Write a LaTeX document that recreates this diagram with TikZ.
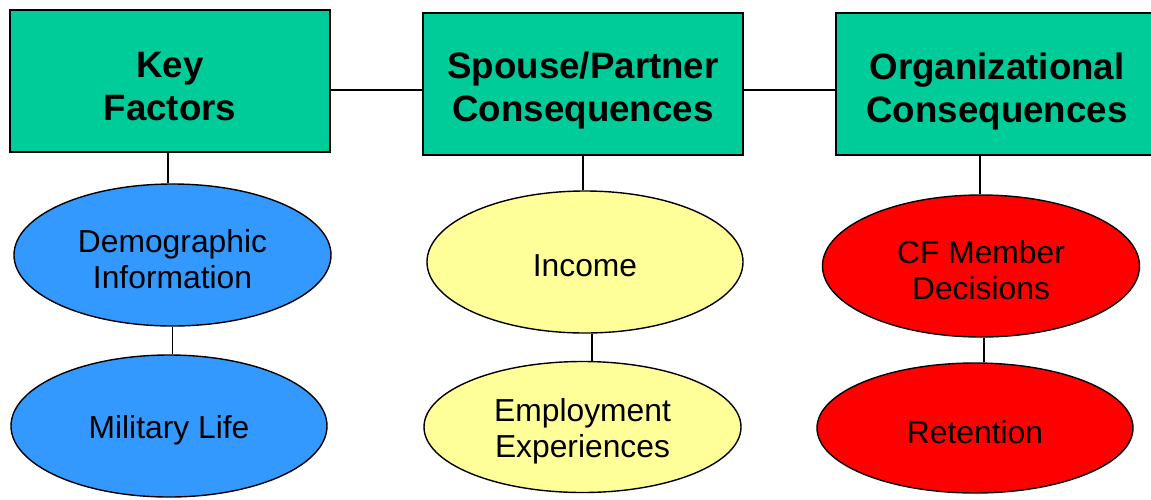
\documentclass[tikz,border=0pt]{standalone}
\usepackage{fontspec}
\setmainfont{Liberation Sans}
\usetikzlibrary{shapes.geometric}
\definecolor{boxgreen}{RGB}{0,204,153}
\definecolor{ellblue}{RGB}{51,153,255}
\definecolor{ellyellow}{RGB}{255,255,153}
\definecolor{ellred}{RGB}{255,0,0}
\tikzset{
  headbox/.style={draw=black, line width=1.8pt, fill=boxgreen, minimum height=142pt, inner sep=0pt},
  headtext/.style={inner sep=0pt, align=center, font=\fontsize{36.7}{43}\selectfont\bfseries},
  oval/.style={ellipse, draw=black, line width=1.4pt, inner sep=0pt},
  ovaltext/.style={inner sep=0pt, align=center, font=\fontsize{31.8}{36}\selectfont},
  link/.style={draw=black, line width=1.8pt}
}
\begin{document}
\begin{tikzpicture}[x=1pt,y=-1pt]
\useasboundingbox (0,0) rectangle (1151,499);
% header boxes
\node[headbox, minimum width=320pt] (k1) at (170,81) {};
\node[headbox, minimum width=320pt] (k2) at (583,84) {};
\node[headbox, minimum width=324pt] (k3) at (998,84) {};
\node[headtext] (k1t) at ([yshift=-6pt]k1.center) {Key\\Factors};
\node[headtext] (k2t) at ([yshift=-7pt]k2.center) {Spouse/Partner\\Consequences};
\node[headtext] (k3t) at ([xshift=-1pt,yshift=-8pt]k3.center) {Organizational\\Consequences};
% ellipses
\node[oval, fill=ellblue, minimum width=317pt, minimum height=142pt] (d1) at (172.5,255) {};
\node[oval, fill=ellblue, minimum width=316pt, minimum height=142pt] (d2) at (169,426) {};
\node[oval, fill=ellyellow, minimum width=316pt, minimum height=142pt] (i1) at (585,262) {};
\node[oval, fill=ellyellow, minimum width=317pt, minimum height=131pt] (i2) at (582.5,427) {};
\node[oval, fill=ellred, minimum width=317pt, minimum height=142pt] (c1) at (981,266) {};
\node[oval, fill=ellred, minimum width=316pt, minimum height=130pt] (c2) at (975,428) {};
\node[ovaltext] (d1t) at ([yshift=-4pt]d1.center) {Demographic\\Information};
\node[ovaltext] (d2t) at ([yshift=-4pt]d2.center) {Military Life};
\node[ovaltext] (i1t) at ([yshift=-4pt]i1.center) {Income};
\node[ovaltext] (i2t) at ([yshift=-4pt]i2.center) {Employment\\Experiences};
\node[ovaltext] (c1t) at ([yshift=-4pt]c1.center) {CF Member\\Decisions};
\node[ovaltext] (c2t) at ([yshift=-4pt]c2.center) {Retention};
% connectors
\draw[link] ([yshift=-9pt]k1.east) -- ([yshift=-9pt]k1.east -| k2.west);
\draw[link] ([yshift=-6pt]k2.east) -- ([yshift=-6pt]k2.east -| k3.west);
\draw[link] ([xshift=-2pt]k1.south) -- ([xshift=-2pt]k1.south |- d1.north);
\draw[link] (d1.south) -- (d1.south |- d2.north);
\draw[link] (k2.south) -- (k2.south |- i1.north);
\draw[link] ([xshift=7pt]i1.south) -- ([xshift=7pt]i1.south |- i2.north);
\draw[link] ([xshift=-18pt]k3.south) -- ([xshift=-18pt]k3.south |- c1.north);
\draw[link] ([xshift=3pt]c1.south) -- ([xshift=3pt]c1.south |- c2.north);
\end{tikzpicture}
\end{document}
